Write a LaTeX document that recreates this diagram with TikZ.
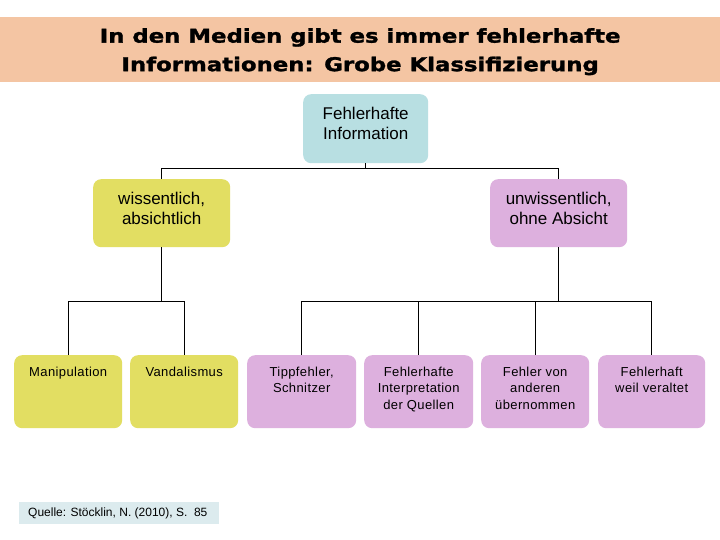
\documentclass[tikz,border=0pt]{standalone}
\usepackage{fontspec}
\setmainfont{Liberation Sans}
\newfontfamily\titlefont[FakeStretch=1.2,FakeBold=1.5]{DejaVu Sans}
\newfontfamily\spacedfont[LetterSpace=3]{Liberation Sans}
\definecolor{titlebg}{HTML}{F4C5A3}
\definecolor{topblue}{HTML}{B8DFE2}
\definecolor{yel}{HTML}{E2DE62}
\definecolor{purp}{HTML}{DDB0DE}
\definecolor{srcbg}{HTML}{DCEBEE}
\newcommand{\boxtxt}[4]{\parbox[t][#2][t]{#1}{\vspace*{#3}\centering #4\par}}
\tikzset{
  conn/.style={draw=black, line width=1pt},
  card/.style={rounded corners=8pt, inner sep=0pt, anchor=north west},
  bigtxt/.style={font=\fontsize{17}{20.5}\selectfont},
  smalltxt/.style={font=\spacedfont\fontsize{13}{16.6}\selectfont},
}
\begin{document}
\begin{tikzpicture}[x=1pt,y=-1pt]
\useasboundingbox (0,0) rectangle (720,540);
\fill[white] (0,0) rectangle (720,540);
% title band
\node[inner sep=0pt, anchor=north west, fill=titlebg, font=\titlefont\bfseries\fontsize{19}{28.5}\selectfont] (title) at (0,17)
  {\boxtxt{720pt}{65pt}{11pt}{In den Medien gibt es immer fehlerhafte\\Informationen: Grobe Klassifizierung}};
% bus coordinates
\coordinate (b0) at (0,169);
\coordinate (b1) at (0,301);
% level 0
\node[card, fill=topblue, bigtxt] (top) at (303,94) {\boxtxt{125pt}{69pt}{12.8pt}{Fehlerhafte\\Information}};
% level 1
\node[card, fill=yel, bigtxt] (wiss) at (93,179) {\boxtxt{137pt}{68pt}{12.8pt}{wissentlich,\\absichtlich}};
\node[card, fill=purp, bigtxt] (unw) at (490,179) {\boxtxt{137pt}{68pt}{12.8pt}{unwissentlich,\\ohne Absicht}};
% level 2
\node[card, fill=yel, smalltxt] (man) at (14,355) {\boxtxt{108pt}{73pt}{11.5pt}{Manipulation}};
\node[card, fill=yel, smalltxt] (van) at (130,355) {\boxtxt{108pt}{73pt}{11.5pt}{Vandalismus}};
\node[card, fill=purp, smalltxt] (tip) at (247,355) {\boxtxt{109pt}{73pt}{11.5pt}{Tippfehler,\\Schnitzer}};
\node[card, fill=purp, smalltxt] (int) at (364,355) {\boxtxt{109pt}{73pt}{11.5pt}{Fehlerhafte\\Interpretation\\der Quellen}};
\node[card, fill=purp, smalltxt] (and) at (481,355) {\boxtxt{108pt}{73pt}{11.5pt}{Fehler von\\anderen\\übernommen}};
\node[card, fill=purp, smalltxt] (alt) at (598,355) {\boxtxt{107pt}{73pt}{11.5pt}{Fehlerhaft\\weil veraltet}};
% connectors
\draw[conn] (top.south) -- (top.south |- b0);
\draw[conn] (wiss.north) |- (unw.north |- b0) -- (unw.north);
\draw[conn] (wiss.south) -- (wiss.south |- b1);
\draw[conn] (man.north) |- (van.north |- b1) -- (van.north);
\draw[conn] (unw.south) -- (unw.south |- b1);
\draw[conn] (tip.north) |- (alt.north |- b1) -- (alt.north);
\draw[conn] (int.north) -- (int.north |- b1);
\draw[conn] (and.north) -- (and.north |- b1);
% source
\node[fill=srcbg, anchor=north west, inner sep=0pt, minimum width=200pt, minimum height=22pt, font=\fontsize{12}{14}\selectfont] (src) at (19,502) {\hspace*{9pt}\makebox[191pt][l]{Quelle: Stöcklin, N. (2010), S.\ \ 85}};
\end{tikzpicture}
\end{document}
